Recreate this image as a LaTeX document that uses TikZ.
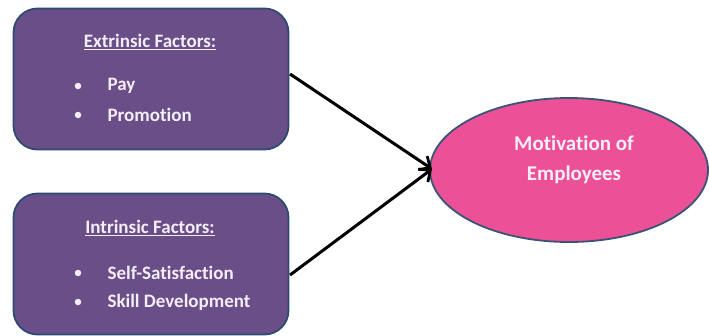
\documentclass[tikz,border=0pt]{standalone}
\usepackage{fontspec}
\setmainfont[Ligatures=NoCommon]{Carlito}
\usetikzlibrary{shapes.geometric,arrows.meta}
\definecolor{boxfill}{HTML}{6A4E88}
\definecolor{boxline}{HTML}{2E4A72}
\definecolor{ellfill}{HTML}{EC5096}
\definecolor{ellline}{HTML}{3A5478}
\definecolor{txtc}{HTML}{F4EEF8}
\tikzset{
  factorbox/.style={draw=boxline, line width=1.8pt, fill=boxfill, rounded corners=24pt,
    minimum width=275pt, minimum height=141pt, inner sep=0pt},
  goal/.style={ellipse, draw=ellline, line width=1.8pt, fill=ellfill,
    minimum width=278pt, minimum height=144pt, inner sep=0pt},
  head/.style={text=txtc, font=\fontsize{19}{22}\selectfont\bfseries},
  item/.style={text=txtc, font=\fontsize{19}{22}\selectfont\bfseries, anchor=west},
  bul/.style={circle, fill=txtc, inner sep=0pt, minimum size=6.5pt},
  conn/.style={line width=3pt, -{Straight Barb[length=9pt,width=16pt,line width=2.8pt]}}
}
\begin{document}
\begin{tikzpicture}[x=1pt,y=-1pt]
\useasboundingbox (0,0) rectangle (709,335);
\node[factorbox] (ext) at (151,79) {};
\node[factorbox] (int) at (151,264) {};
\node[goal] (mot) at (569,170) {};
\node[head] (exth) at (150,42) {\underline{Extrinsic Factors:}};
\node[bul] (b1) at (78,86) {};
\node[item] (t1) at (104,86) {Pay};
\node[bul] (b2) at (78,115) {};
\node[item] (t2) at (104,115) {Promotion};
\node[head] (inth) at (150,228) {\underline{Intrinsic Factors:}};
\node[bul] (b3) at (78,273) {};
\node[item] (t3) at (104,273) {Self-Satisfaction};
\node[bul] (b4) at (78,302) {};
\node[item] (t4) at (104,302) {Skill Development};
\node[text=txtc, font=\fontsize{21}{30}\selectfont\bfseries, align=center] (mott) at (574,160) {Motivation of\\Employees};
\coordinate (e1) at (290,74);
\coordinate (e2) at (290,275);
\coordinate (tip) at (432,169);
\draw[conn] (e1) -- (tip);
\draw[conn] (e2) -- (tip);
\end{tikzpicture}
\end{document}
